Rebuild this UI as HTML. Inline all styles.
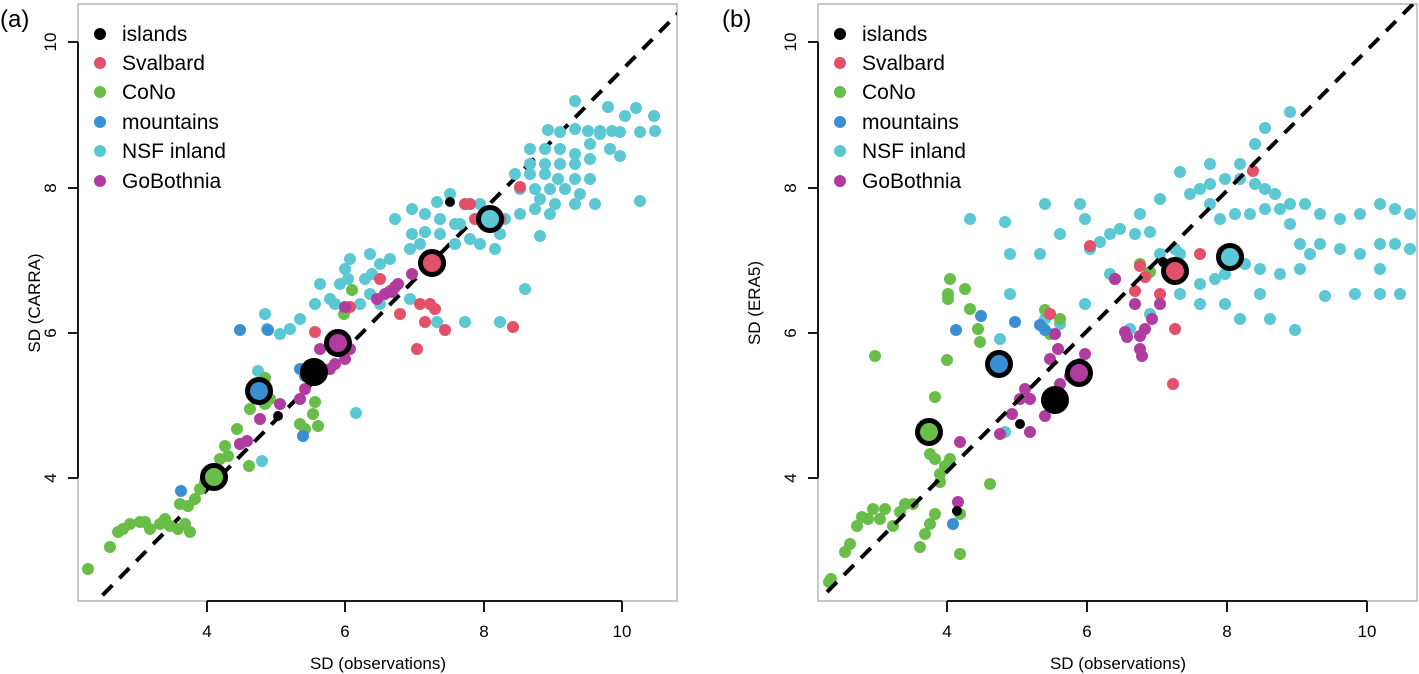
<!DOCTYPE html>
<html><head><meta charset="utf-8"><style>
html,body{margin:0;padding:0;background:#fff;overflow:hidden;width:1419px;height:674px;}
svg{display:block;font-family:"Liberation Sans",sans-serif;}
.c{fill:#5cc8d3}.g{fill:#69be4a}.r{fill:#e2506a}.p{fill:#b13c9f}.b{fill:#3a8fd2}.k{fill:#000}
</style></head><body>
<svg id="s" width="1419" height="674" viewBox="0 0 1419 674" xmlns="http://www.w3.org/2000/svg">
<defs>
<clipPath id="ca"><rect x="78" y="4" width="599" height="597"/></clipPath>
<clipPath id="cb"><rect x="818" y="4" width="599" height="597"/></clipPath>
</defs>
<text x="0" y="27" font-size="24">(a)</text>
<rect x="78" y="4" width="599" height="597" fill="none" stroke="#aaa" stroke-width="1.3"/>
<g stroke="#000" stroke-width="1.8">
<line x1="78" y1="42" x2="78" y2="478"/>
<line x1="68" y1="42" x2="78" y2="42"/><line x1="68" y1="188" x2="78" y2="188"/><line x1="68" y1="333" x2="78" y2="333"/><line x1="68" y1="478" x2="78" y2="478"/>
<line x1="207" y1="601" x2="622" y2="601"/>
<line x1="207" y1="601" x2="207" y2="612"/><line x1="345" y1="601" x2="345" y2="612"/><line x1="484" y1="601" x2="484" y2="612"/><line x1="622" y1="601" x2="622" y2="612"/>
</g>
<g font-size="17" text-anchor="middle">
<text transform="translate(56,42) rotate(-90)">10</text>
<text transform="translate(56,188) rotate(-90)">8</text>
<text transform="translate(56,333) rotate(-90)">6</text>
<text transform="translate(56,478) rotate(-90)">4</text>
<text x="207" y="637">4</text><text x="345" y="637">6</text><text x="484" y="637">8</text><text x="622" y="637">10</text>
<text x="378" y="669">SD (observations)</text>
<text transform="translate(40,303) rotate(-90)">SD (CARRA)</text>
</g>
<g font-size="21">
<circle cx="100" cy="34" r="6" class="k"/><text x="122" y="41">islands</text>
<circle cx="100" cy="63" r="6" class="r"/><text x="122" y="70">Svalbard</text>
<circle cx="100" cy="92" r="6" class="g"/><text x="122" y="99">CoNo</text>
<circle cx="100" cy="122" r="6" class="b"/><text x="122" y="129">mountains</text>
<circle cx="100" cy="151" r="6" class="c"/><text x="122" y="158">NSF inland</text>
<circle cx="100" cy="181" r="6" class="p"/><text x="122" y="188">GoBothnia</text>
</g>
<g clip-path="url(#ca)">
<line x1="-100" y1="800" x2="800" y2="-110" stroke="#000" stroke-width="4" stroke-dasharray="14,10"/>
</g>
<g id="pa" transform="translate(0,4)"></g>
<text x="722" y="27" font-size="24">(b)</text>
<rect x="818" y="4" width="599" height="597" fill="none" stroke="#aaa" stroke-width="1.3"/>
<g stroke="#000" stroke-width="1.8">
<line x1="818" y1="42" x2="818" y2="478"/>
<line x1="808" y1="42" x2="818" y2="42"/><line x1="808" y1="188" x2="818" y2="188"/><line x1="808" y1="333" x2="818" y2="333"/><line x1="808" y1="478" x2="818" y2="478"/>
<line x1="947" y1="601" x2="1367" y2="601"/>
<line x1="947" y1="601" x2="947" y2="612"/><line x1="1087" y1="601" x2="1087" y2="612"/><line x1="1227" y1="601" x2="1227" y2="612"/><line x1="1367" y1="601" x2="1367" y2="612"/>
</g>
<g font-size="17" text-anchor="middle">
<text transform="translate(796,42) rotate(-90)">10</text>
<text transform="translate(796,188) rotate(-90)">8</text>
<text transform="translate(796,333) rotate(-90)">6</text>
<text transform="translate(796,478) rotate(-90)">4</text>
<text x="947" y="637">4</text><text x="1087" y="637">6</text><text x="1227" y="637">8</text><text x="1367" y="637">10</text>
<text x="1118" y="669">SD (observations)</text>
<text transform="translate(760,303) rotate(-90)">SD (ERA5)</text>
</g>
<g font-size="21">
<circle cx="840" cy="34" r="6" class="k"/><text x="862" y="41">islands</text>
<circle cx="840" cy="63" r="6" class="r"/><text x="862" y="70">Svalbard</text>
<circle cx="840" cy="92" r="6" class="g"/><text x="862" y="99">CoNo</text>
<circle cx="840" cy="122" r="6" class="b"/><text x="862" y="129">mountains</text>
<circle cx="840" cy="151" r="6" class="c"/><text x="862" y="158">NSF inland</text>
<circle cx="840" cy="181" r="6" class="p"/><text x="862" y="188">GoBothnia</text>
</g>
<g id="pb" transform="translate(0,4)"></g>
<g clip-path="url(#cb)">
<line x1="827" y1="592" x2="1417" y2="0" stroke="#000" stroke-width="4" stroke-dasharray="14,10"/>
</g>
<g id="rings"></g>
</svg>
<script>
var NS="http://www.w3.org/2000/svg";
function add(g,cls,pts,r){var el=document.getElementById(g);for(var i=0;i<pts.length;i+=2){var c=document.createElementNS(NS,"circle");c.setAttribute("cx",pts[i]);c.setAttribute("cy",pts[i+1]);c.setAttribute("r",r||6);c.setAttribute("class",cls);el.appendChild(c);}}
add("pa","c",[575,97,608,103,636,104,654,112,625,112,612,127,600,127,588,127,575,125,560,128,548,126,530,145,545,145,560,145,575,150,590,155,600,130,620,128,640,128,655,127,545,160,560,160,575,160,530,160,515,170,530,170,545,170,558,175,575,175,590,175,520,185,535,185,550,185,565,185,580,190,540,195,555,200,575,200,595,200,535,205,550,210,520,210,505,215,490,215,480,200,465,200,450,190,437,198,425,210,440,215,460,220,412,205,395,215,412,230,425,228,440,230,455,240,470,235,480,240,495,245,500,230,420,240,410,245,390,255,380,260,372,270,365,275,350,255,345,265,348,275,340,280,335,300,330,295,320,280,315,300,300,315,290,325,280,330,265,310,267,325,370,290,360,300,345,305,540,232,525,285,500,318,465,318,437,318,410,295,380,300,356,409,262,457,258,367,370,250,455,220,640,197,620,152,610,145,590,140]);
add("pa","g",[88,565,110,543,118,528,123,525,130,520,140,518,145,518,150,525,160,520,165,515,170,522,178,525,185,520,190,528,180,500,188,502,195,495,200,485,205,478,210,470,215,465,220,455,225,442,228,452,240,440,237,425,250,405,265,400,270,395,249,462,265,374,300,420,305,425,313,410,315,398,318,422,344,310,342,332,352,286]);
add("pa","r",[380,275,390,287,420,300,430,300,435,305,400,310,445,326,425,318,350,303,315,328,417,345,470,200,475,215,500,215,513,323,465,200,520,183]);
add("pa","p",[240,440,247,437,260,415,280,400,300,395,305,385,330,365,335,360,345,355,350,345,320,345,330,340,345,340,345,303,377,295,385,290,392,288,395,283,398,280,412,270]);
add("pa","b",[240,326,268,326,300,365,305,372,303,432,181,487]);
add("pa","k",[278,412,450,198],5);
add("pb","c",[1290,108,1265,124,1255,140,1240,160,1210,160,1180,168,1160,195,1140,210,1100,238,1090,245,1085,215,1060,230,1040,250,1010,250,1005,218,970,215,1045,200,1080,200,1110,230,1120,225,1135,230,1150,228,1160,250,1175,245,1190,190,1200,185,1210,180,1225,175,1240,175,1255,180,1265,185,1275,190,1290,200,1305,200,1320,210,1340,215,1360,210,1380,200,1395,205,1410,210,1210,200,1220,215,1235,210,1250,210,1265,205,1280,205,1290,220,1300,240,1310,250,1320,240,1340,245,1360,250,1380,240,1395,240,1410,245,1380,265,1355,290,1325,292,1300,265,1280,270,1260,265,1245,260,1225,270,1215,275,1200,280,1180,290,1160,300,1150,310,1130,325,1085,300,1060,320,1045,315,1010,290,1000,335,1005,428,1110,270,1180,250,1240,315,1270,315,1295,326,1225,300,1200,300,1260,290,1400,290,1380,290]);
add("pb","g",[829,578,831,575,845,548,850,540,857,522,862,513,868,515,873,505,880,515,885,505,893,522,900,508,905,500,913,500,920,543,925,530,930,520,935,510,940,470,945,462,950,455,935,455,930,450,935,393,947,356,950,275,948,290,948,295,965,285,970,305,978,325,980,338,990,480,1050,330,1045,306,1060,315,960,510,960,550,940,478,875,352,1140,260,1150,268]);
add("pb","r",[1145,273,1200,250,1090,242,1115,275,1135,287,1160,290,1175,325,1173,380,1223,248,1050,310,1253,167,1140,262]);
add("pb","p",[960,438,1000,430,1030,428,1045,412,1050,395,1060,380,1070,372,1075,375,1080,360,1085,350,1055,330,1058,345,1025,385,1030,395,1115,275,1135,300,1140,332,1140,345,1145,325,1152,315,1160,300,1125,328,1127,333,1050,355,1142,352,958,498,1012,410,1020,395]);
add("pb","b",[956,326,981,312,1015,318,1040,321,1045,326,953,520]);
add("pb","k",[957,507,1020,420,1163,258],5);
function ring(x,y,cls){var el=document.getElementById("rings");var c=document.createElementNS(NS,"circle");c.setAttribute("cx",x);c.setAttribute("cy",y+4);c.setAttribute("r",11.5);c.setAttribute("class",cls);c.setAttribute("stroke","#000");c.setAttribute("stroke-width","5");el.appendChild(c);}
ring(490,215,"c");ring(432,259,"r");ring(338,339,"p");ring(314,368,"k");ring(259,387,"b");ring(214,473,"g");
ring(1230,253,"c");ring(1175,267,"r");ring(999,360,"b");ring(1079,369,"p");ring(1055,396,"k");ring(929,428,"g");
</script>
</body></html>
